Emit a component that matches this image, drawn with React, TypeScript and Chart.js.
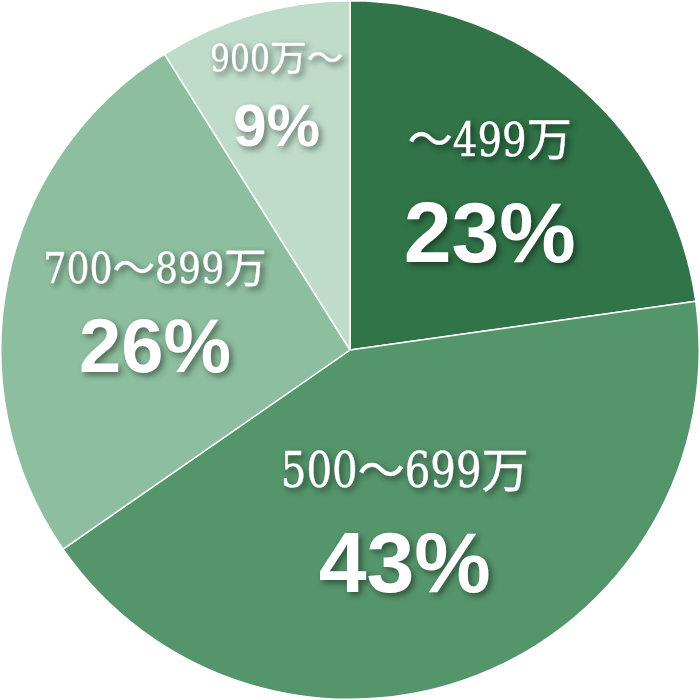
import React, { useEffect, useRef } from "react";
import { Chart, registerables } from "chart.js";

Chart.register(...registerables);

const categories = ["～499万", "500～699万", "700～899万", "900万～"];
const shares = [23, 43, 26, 9];
const percentLabels = ["23%", "43%", "26%", "9%"];
const colors = ["#307448", "#55956c", "#8dbe9f", "#bfdccb"];

// label placement relative to each slice: radius fraction, angle nudge (deg), name size, pct size, line gap
const labelRadius = [0.61, 0.51, 0.57, 0.76];
const labelAngleNudge = [0, 3.5, 0, 0];
const nameSize = [48, 50, 45, 39];
const pctSize = [86, 86, 76, 60];
const gap = [92, 91, 77, 67];

const SERIF = '"DejaVu Serif"';
const CJK = '"Noto Sans CJK JP", "Noto Sans CJK SC", sans-serif';

function drawMixed(ctx: any, text: string, cx: number, baseY: number, size: number) {
  const runs: { t: string; cjk: boolean }[] = [];
  for (const ch of text) {
    const cjk = ch.charCodeAt(0) > 0x2000;
    const last = runs[runs.length - 1];
    if (last && last.cjk === cjk) last.t += ch;
    else runs.push({ t: ch, cjk });
  }
  const sx = 0.84;
  const fontFor = (cjk: boolean) => (cjk ? `${size * 0.94}px ${CJK}` : `${size * 0.96}px ${SERIF}`);
  let total = 0;
  const widths = runs.map((r) => {
    ctx.font = fontFor(r.cjk);
    const w = ctx.measureText(r.t).width * (r.cjk ? 1 : sx);
    total += w;
    return w;
  });
  let x = cx - total / 2;
  ctx.textAlign = "left";
  runs.forEach((r, k) => {
    ctx.font = fontFor(r.cjk);
    ctx.lineWidth = 0.6;
    ctx.save();
    ctx.translate(x, baseY);
    if (!r.cjk) ctx.scale(sx, 1);
    ctx.strokeText(r.t, 0, 0);
    ctx.fillText(r.t, 0, 0);
    ctx.restore();
    x += widths[k];
  });
}

const labelPlugin = {
  id: "sliceLabels",
  afterDatasetsDraw(chart: any) {
    const ctx = chart.ctx;
    const meta = chart.getDatasetMeta(0);
    meta.data.forEach((arc: any, i: number) => {
      const { x, y, startAngle, endAngle, outerRadius } = arc.getProps(
        ["x", "y", "startAngle", "endAngle", "outerRadius"],
        true
      );
      const mid = (startAngle + endAngle) / 2 + (labelAngleNudge[i] * Math.PI) / 180;
      const r = outerRadius * labelRadius[i];
      const cx = x + Math.cos(mid) * r;
      const cy = y + Math.sin(mid) * r;
      const ns = nameSize[i];
      const ps = pctSize[i];
      const g = gap[i];
      const nameCenter = cy - g / 2 - 4;
      const pctCenter = cy + g / 2 - 4;
      ctx.save();
      ctx.fillStyle = "#ffffff";
      ctx.strokeStyle = "#ffffff";
      ctx.lineJoin = "round";
      ctx.textBaseline = "alphabetic";
      ctx.shadowColor = "rgba(0,0,0,0.45)";
      ctx.shadowBlur = 6;
      ctx.shadowOffsetX = 3;
      ctx.shadowOffsetY = 3;
      drawMixed(ctx, categories[i], cx, nameCenter + ns * 0.34, ns);
      ctx.textAlign = "center";
      ctx.font = `bold ${ps}px "Liberation Sans", Arial, sans-serif`;
      ctx.fillText(percentLabels[i], cx, pctCenter + ps * 0.36);
      ctx.restore();
    });
  },
};

export default function App() {
  const ref = useRef<HTMLCanvasElement>(null);
  useEffect(() => {
    document.body.style.margin = "0";
    const chart = new Chart(ref.current!, {
      type: "pie",
      data: {
        labels: categories,
        datasets: [
          {
            data: shares,
            backgroundColor: colors,
            borderColor: "#ffffff",
            borderWidth: 1.5,
          },
        ],
      },
      options: {
        responsive: false,
        animation: false,
        layout: { padding: 0 },
        plugins: {
          legend: { display: false },
          tooltip: { enabled: false },
        },
      },
      plugins: [labelPlugin],
    });
    return () => chart.destroy();
  }, []);
  return (
    <div style={{ position: "absolute", left: 0, top: 0, width: 700, height: 700, background: "#fff" }}>
      <canvas ref={ref} width={700} height={700} />
    </div>
  );
}
